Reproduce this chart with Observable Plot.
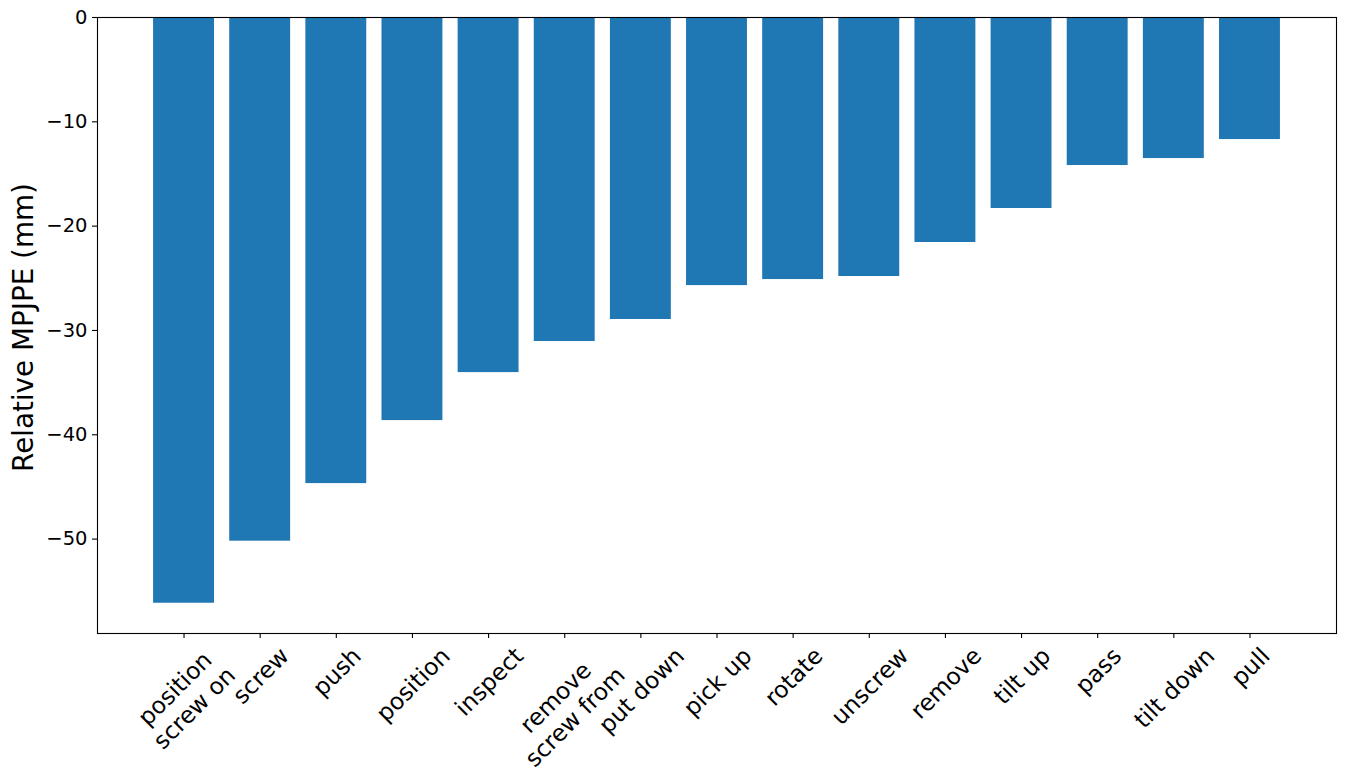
<!DOCTYPE html>
<html>
<head>
<meta charset="utf-8">
<script src="https://cdn.jsdelivr.net/npm/d3@7"></script>
<script src="https://cdn.jsdelivr.net/npm/@observablehq/plot@0.6"></script>
<style>
  html, body { margin: 0; padding: 0; background: #fff; }
  #chart svg { display: block; }
</style>
</head>
<body>
<div id="chart"></div>
<script>
const categories = ["position\nscrew on", "screw", "push", "position", "inspect", "remove\nscrew from", "put down", "pick up", "rotate", "unscrew", "remove", "tilt up", "pass", "tilt down", "pull"];
const values = [-56.15, -50.2, -44.68, -38.64, -34.04, -31.06, -28.95, -25.70, -25.12, -24.83, -21.57, -18.31, -14.19, -13.52, -11.70];
const yTicks = [-50, -40, -30, -20, -10, 0];
const yDomain = [-59.05, 0];
const yLabel = "Relative MPJPE (mm)";

const data = categories.map((c, i) => ({category: c, value: values[i]}));

const FONT = "DejaVu Sans";
const tickFont = 23.4;
const lineH = 1.17;
const ctx = document.createElement("canvas").getContext("2d");
ctx.font = `${tickFont}px "${FONT}"`;
function labelOffset(label) {
  const lines = label.split("\n");
  const w = Math.max(...lines.map(l => ctx.measureText(l).width));
  const H = tickFont * (0.968 + (lines.length - 1) * lineH);
  return 9.7 + (w + H) / (2 * Math.SQRT2);
}

const labelMarks = categories.map(c => Plot.text([c], {
  x: d => d,
  text: d => d,
  frameAnchor: "bottom",
  rotate: -45,
  textAnchor: "middle",
  lineAnchor: "middle",
  lineHeight: lineH,
  fontSize: tickFont,
  fill: "black",
  dy: labelOffset(c)
}));

const chart = Plot.plot({
  width: 1345,
  height: 783,
  marginLeft: 97,
  marginRight: 9,
  marginTop: 17,
  marginBottom: 150,
  style: {fontFamily: FONT, color: "black", background: "white", overflow: "visible"},
  x: {type: "band", domain: categories, paddingInner: 0.2, paddingOuter: 0.7365, align: 0.5, round: false, label: null},
  y: {domain: yDomain, label: null},
  marks: [
    Plot.barY(data, {x: "category", y: "value", fill: "#1f77b4"}),
    Plot.axisY({ticks: yTicks, tickSize: 5, tickPadding: 5, fontSize: 19.5, label: null, stroke: "black", strokeWidth: 1.1}),
    Plot.axisX({tickSize: 5, tickFormat: () => "", label: null, stroke: "black", strokeWidth: 1.1}),
    ...labelMarks,
    Plot.text([yLabel], {text: d => d, frameAnchor: "left", rotate: -90, dx: -73, dy: 2, fontSize: 27.8, textAnchor: "middle", lineAnchor: "middle", fill: "black"}),
    Plot.frame({stroke: "black", strokeWidth: 1.1})
  ]
});
document.getElementById("chart").appendChild(chart);
</script>
</body>
</html>
